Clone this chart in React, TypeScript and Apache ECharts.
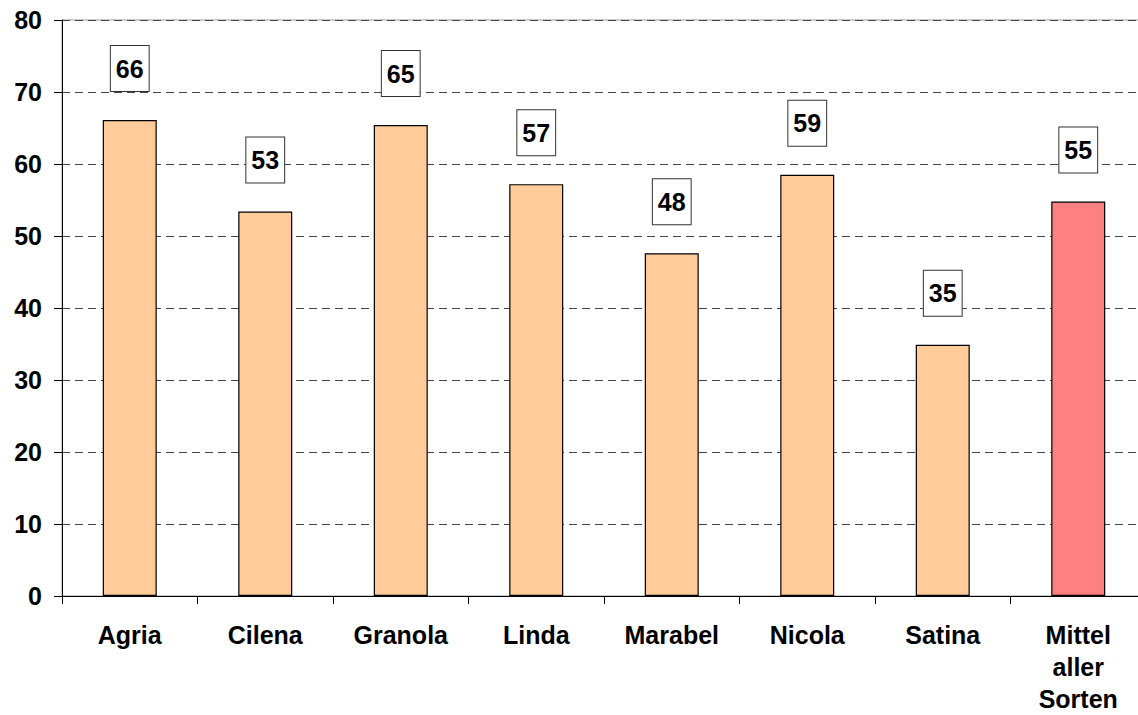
import React, { useEffect, useRef } from "react";
import * as echarts from "echarts";

const categories = ["Agria", "Cilena", "Granola", "Linda", "Marabel", "Nicola", "Satina", "Mittel aller Sorten"];
const values = [66.1, 53.4, 65.4, 57.2, 47.6, 58.5, 34.9, 54.8];
const labelTexts = ["66", "53", "65", "57", "48", "59", "35", "55"];
const highlightIndex = 7;

const FONT = 'Arial, "Liberation Sans", sans-serif';

export default function App() {
  const ref = useRef<HTMLDivElement>(null);
  useEffect(() => {
    if (!ref.current) return;
    const chart = echarts.init(ref.current, null, { renderer: "svg" });
    chart.setOption({
      animation: false,
      backgroundColor: "#fff",
      grid: {
        left: 62,
        right: 4,
        top: 20,
        bottom: 115,
        show: true,
        borderColor: "#999",
        borderWidth: 1,
      },
      xAxis: {
        type: "category",
        data: categories,
        axisLine: { show: true, lineStyle: { color: "#000", width: 1 } },
        axisTick: { show: true, length: 8, lineStyle: { color: "#000" } },
        axisLabel: {
          color: "#000",
          fontFamily: FONT,
          fontWeight: "bold",
          fontSize: 25,
          lineHeight: 32,
          margin: 23,
          interval: 0,
          formatter: (v: string) => v.split(" ").join("\n"),
        },
      },
      yAxis: {
        type: "value",
        min: 0,
        max: 80,
        interval: 10,
        axisLine: { show: true, lineStyle: { color: "#000", width: 1 } },
        axisTick: { show: true, length: 8, lineStyle: { color: "#000" } },
        axisLabel: {
          color: "#000",
          fontFamily: FONT,
          fontWeight: "bold",
          fontSize: 25,
          margin: 20,
        },
        splitLine: {
          show: true,
          lineStyle: { color: "#444", type: [8, 5], width: 1 },
        },
      },
      series: [
        {
          type: "bar",
          barWidth: 54,
          data: values.map((v, i) => ({
            value: v,
            itemStyle: {
              color: i === highlightIndex ? "#FF8080" : "#FFCC99",
              borderColor: "#000",
              borderWidth: 1.2,
            },
            label: { formatter: labelTexts[i] },
          })),
          label: {
            show: true,
            position: "top",
            distance: 29,
            color: "#000",
            fontFamily: FONT,
            fontWeight: "bold",
            fontSize: 25,
            lineHeight: 25,
            backgroundColor: "#fff",
            borderColor: "#333",
            borderWidth: 1,
            padding: [10, 5, 10, 5],
          },
        },
      ],
    });
    return () => chart.dispose();
  }, []);
  return (
    <div
      ref={ref}
      style={{ position: "fixed", left: 0, top: 0, width: 1150, height: 715 }}
    />
  );
}
